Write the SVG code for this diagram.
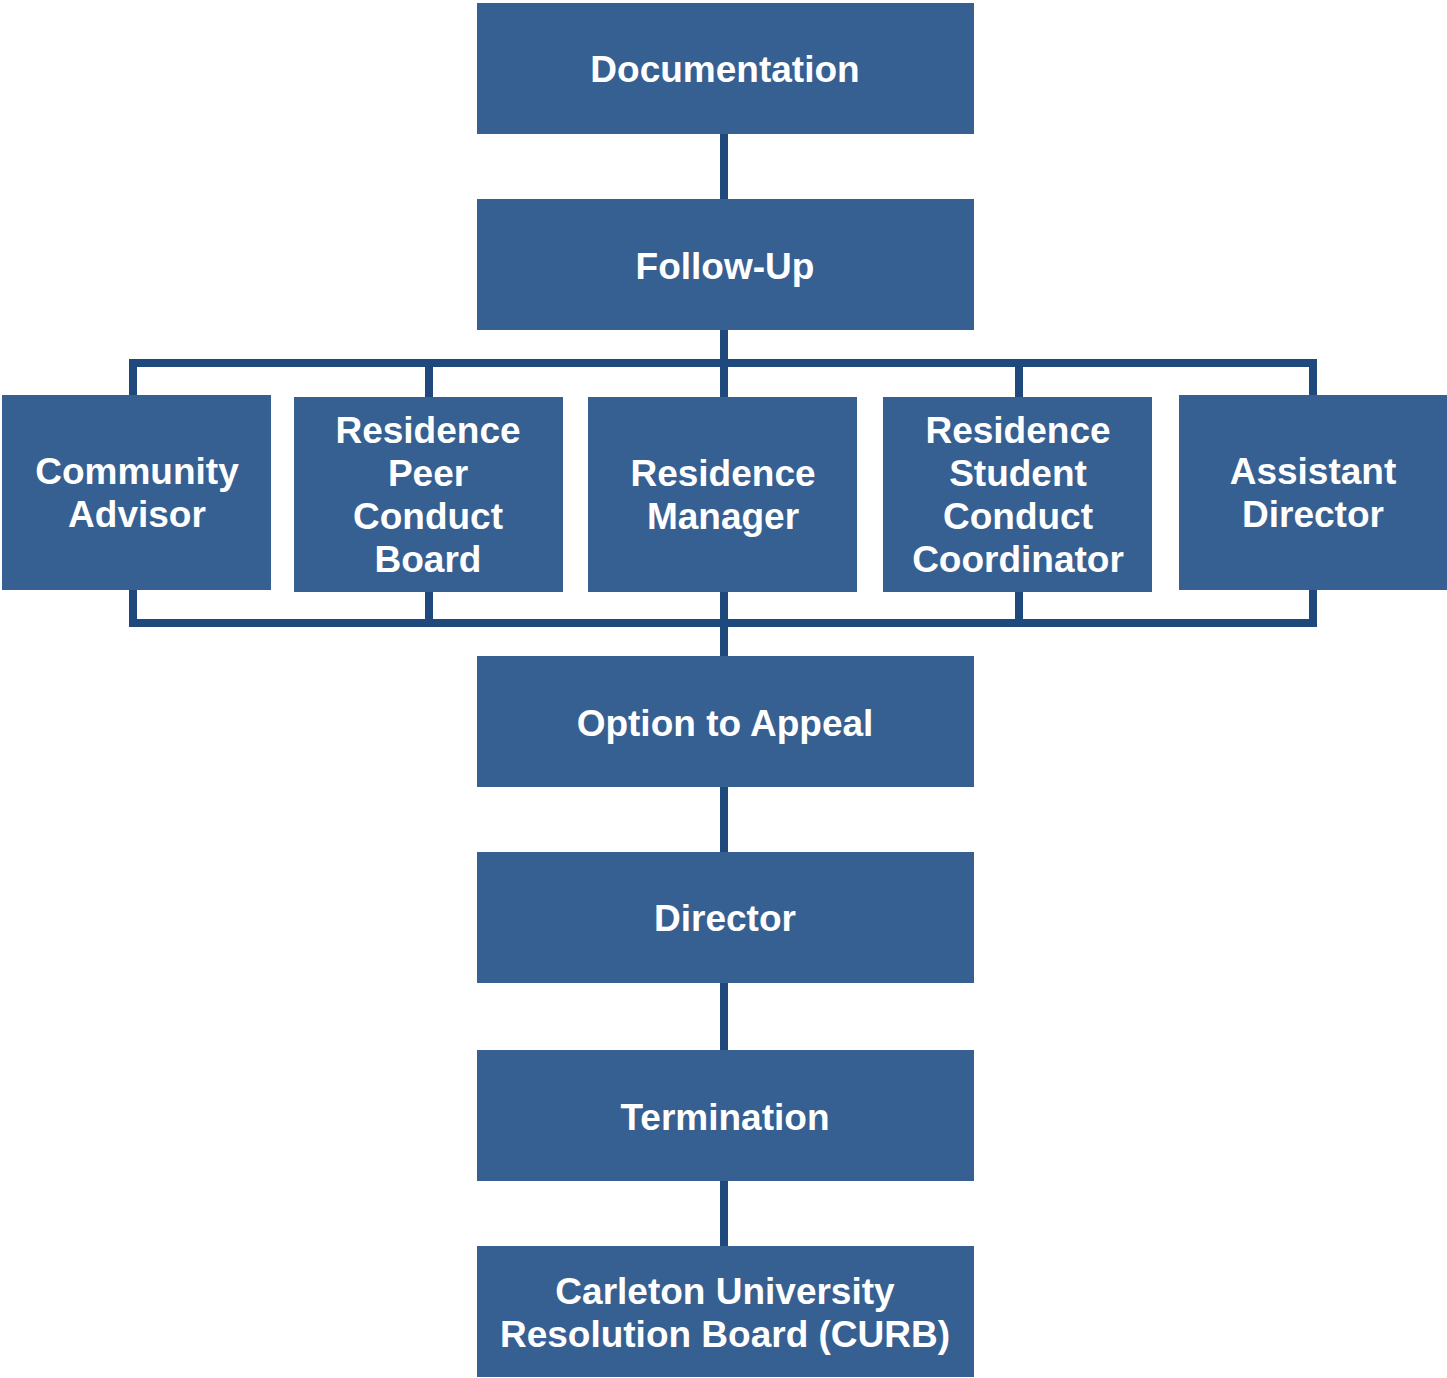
<svg xmlns="http://www.w3.org/2000/svg" width="1447" height="1378" viewBox="0 0 1447 1378">
<style>
.box{fill:#376092}
.lbl{font-family:"Liberation Sans",Arial,sans-serif;font-weight:bold;font-size:37px;fill:#ffffff;text-anchor:middle}
.conn{fill:none;stroke:#1f497d;stroke-width:8}
</style>
<rect width="1447" height="1378" fill="#ffffff"/>
<g id="connectors">
<path class="conn" d="M724 134V199"/>
<path class="conn" d="M724 330V397"/>
<path class="conn" d="M133 395V363H1313V395"/>
<path class="conn" d="M429 363V397M1019 363V397"/>
<path class="conn" d="M133 589V623H1313V589"/>
<path class="conn" d="M429 591V623M1019 591V623"/>
<path class="conn" d="M724 591V656"/>
<path class="conn" d="M724 787V852"/>
<path class="conn" d="M724 983V1050"/>
<path class="conn" d="M724 1181V1246"/>
</g>
<g id="documentation"><rect class="box" x="477" y="3" width="497" height="131"/><text class="lbl" x="725" y="82">Documentation</text></g>
<g id="follow-up"><rect class="box" x="477" y="199" width="497" height="131"/><text class="lbl" x="725" y="279">Follow-Up</text></g>
<g id="community-advisor"><rect class="box" x="2" y="395" width="269" height="195"/><text class="lbl" x="137" y="484">Community</text><text class="lbl" x="137" y="527">Advisor</text></g>
<g id="peer-board"><rect class="box" x="294" y="397" width="269" height="195"/><text class="lbl" x="428" y="443">Residence</text><text class="lbl" x="428" y="486">Peer</text><text class="lbl" x="428" y="529">Conduct</text><text class="lbl" x="428" y="572">Board</text></g>
<g id="residence-manager"><rect class="box" x="588" y="397" width="269" height="195"/><text class="lbl" x="723" y="486">Residence</text><text class="lbl" x="723" y="529">Manager</text></g>
<g id="student-conduct-coordinator"><rect class="box" x="883" y="397" width="269" height="195"/><text class="lbl" x="1018" y="443">Residence</text><text class="lbl" x="1018" y="486">Student</text><text class="lbl" x="1018" y="529">Conduct</text><text class="lbl" x="1018" y="572">Coordinator</text></g>
<g id="assistant-director"><rect class="box" x="1179" y="395" width="268" height="195"/><text class="lbl" x="1313" y="484">Assistant</text><text class="lbl" x="1313" y="527">Director</text></g>
<g id="option-to-appeal"><rect class="box" x="477" y="656" width="497" height="131"/><text class="lbl" x="725" y="736">Option to Appeal</text></g>
<g id="director"><rect class="box" x="477" y="852" width="497" height="131"/><text class="lbl" x="725" y="931">Director</text></g>
<g id="termination"><rect class="box" x="477" y="1050" width="497" height="131"/><text class="lbl" x="725" y="1130">Termination</text></g>
<g id="curb"><rect class="box" x="477" y="1246" width="497" height="131"/><text class="lbl" x="725" y="1304">Carleton University</text><text class="lbl" x="725" y="1347">Resolution Board (CURB)</text></g>
</svg>
